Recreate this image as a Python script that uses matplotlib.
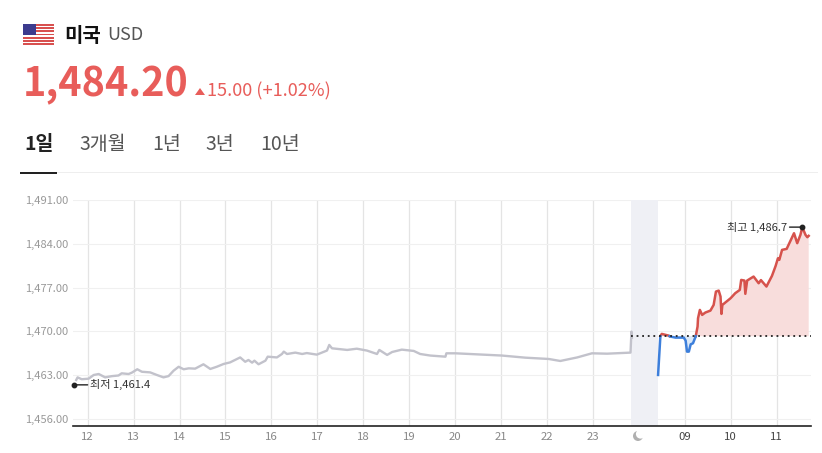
import numpy as np
import matplotlib
matplotlib.use('Agg')
import matplotlib.pyplot as plt
from matplotlib.patches import Rectangle, Polygon, Circle
from matplotlib.transforms import IdentityTransform

plt.rcParams['font.family'] = ['Noto Sans CJK KR', 'DejaVu Sans']

W, H = 822, 453

# values; hours run on past midnight (25 = 09h)
grey_x = [11.75, 11.78, 11.87, 12.02, 12.13, 12.24, 12.38, 12.53, 12.67, 12.74, 12.89, 12.96, 13.08, 13.18,
          13.36, 13.5, 13.65, 13.76, 13.87, 13.98, 14.09, 14.2, 14.34, 14.52, 14.67, 14.81, 14.96,
          15.1, 15.32, 15.43, 15.5, 15.58, 15.63, 15.72, 15.87, 15.92, 16.12, 16.23, 16.27, 16.34, 16.52,
          16.67, 16.77, 16.99, 17.21, 17.26, 17.32, 17.65, 17.86, 18.08, 18.3, 18.35, 18.52, 18.63, 18.84,
          19.1, 19.24, 19.46, 19.79, 19.81, 20.01, 21.02, 21.53, 22.04, 22.29, 22.66, 22.98, 23.31, 23.82,
          23.84, 23.85]
grey_y = [1462.18, 1462.6, 1462.3, 1462.39, 1462.98, 1463.14, 1462.6, 1462.8, 1462.9, 1463.25, 1463.14, 1463.35,
          1463.9, 1463.5, 1463.4, 1463.0, 1462.6, 1462.8, 1463.67, 1464.3, 1463.9, 1464.05, 1464.0, 1464.7,
          1463.95, 1464.3, 1464.75, 1465.0, 1465.8, 1465.1, 1465.39, 1464.96, 1465.28, 1464.7, 1465.28, 1465.92,
          1465.8, 1466.35, 1466.73, 1466.35, 1466.57, 1466.35, 1466.5, 1466.25, 1466.9, 1467.8, 1467.26, 1467.0,
          1467.2, 1466.9, 1466.35, 1467.0, 1466.2, 1466.67, 1467.05, 1466.84, 1466.35, 1466.1, 1465.92, 1466.46,
          1466.46, 1466.1, 1465.76, 1465.55, 1465.23, 1465.8, 1466.46, 1466.4, 1466.57, 1469.94, 1469.0]

# after the open, the crossings of the previous close are listed as points
open_x = [24.42, 24.47, 24.5, 24.65, 24.67, 24.69, 24.8, 24.98, 25.02, 25.05, 25.09, 25.13, 25.18, 25.23,
          25.24, 25.28, 25.29, 25.33, 25.38, 25.45, 25.56, 25.63, 25.68, 25.74, 25.78, 25.8, 25.82, 26.0, 26.1,
          26.2, 26.23, 26.3, 26.32, 26.36, 26.5, 26.61, 26.66, 26.78, 26.9, 26.98, 27.03, 27.06, 27.12, 27.22,
          27.38, 27.45, 27.52, 27.56, 27.63, 27.67, 27.7]
open_y = [1462.99, 1469.2, 1469.57, 1469.3, 1469.2, 1469.14, 1468.98, 1468.98, 1468.5, 1466.73, 1466.73, 1467.9,
          1468.07, 1469.0, 1469.2, 1470.75, 1472.08, 1473.42, 1472.62, 1473.0, 1473.31, 1474.22, 1476.36, 1476.52,
          1475.56, 1472.78, 1474.22, 1475.3, 1476.1, 1476.63, 1478.23, 1478.13, 1476.0, 1478.13, 1478.77, 1477.7,
          1478.2, 1477.17, 1478.88, 1480.48, 1481.7, 1481.45, 1483.05, 1483.21, 1485.72, 1484.12, 1485.46, 1486.7,
          1485.46, 1485.08, 1485.3]

prev_close = 1469.2
low_x, low_y = 11.7, 1461.4
high_x, high_y = 27.56, 1486.7
night_x = [23.84, 24.41]

y_ticks = [1456, 1463, 1470, 1477, 1484, 1491]
x_ticks = [12, 13, 14, 15, 16, 17, 18, 19, 20, 21, 22, 23, 25, 26, 27]
x_labels = ['12', '13', '14', '15', '16', '17', '18', '19', '20', '21', '22', '23', '09', '10', '11']

tabs = ['1일', '3개월', '1년', '3년', '10년']
tab_left = [24, 79, 152, 205, 260]

RED = '#e85d5a'
LINE_RED = '#d6524c'
BLUE = '#3d7fdb'
GREY = '#c2c2cb'


def px(x, y):
    return x / W, 1 - y / H


def label(x, y, s, size, color, weight='normal', ha='left'):
    fx, fy = px(x, y)
    fig.text(fx, fy, s, fontsize=size * 0.72, color=color, fontweight=weight, ha=ha, va='center')


fig = plt.figure(figsize=(W / 100, H / 100), dpi=100)

# flag
flag = fig.add_axes([23 / W, 1 - 45 / H, 31 / W, 21 / H])
flag.set_xlim(0, 1)
flag.set_ylim(13, 0)
flag.axis('off')
for i in range(13):
    flag.add_patch(Rectangle((0, i), 1, 1, color='#d8504f' if i % 2 == 0 else 'white', lw=0))
flag.add_patch(Rectangle((0, 0), 0.42, 7, color='#3c3b8e', lw=0))

# header
label(64, 35, '미국', 20, '#111111', 'bold')
label(107, 35.5, 'USD', 18, '#555555')
label(22.5, 84.5, '1,484.20', 39.5, RED, 'bold')
label(207, 91, '15.00 (+1.02%)', 18.2, RED)
fig.add_artist(Polygon([px(195, 95), px(205, 95), px(200, 88)], closed=True, color=RED, lw=0,
                       transform=fig.transFigure))
for i in range(len(tabs)):
    if i == 0:
        label(tab_left[i], 144, tabs[i], 19.5, '#222222', 'bold')
    else:
        label(tab_left[i], 144, tabs[i], 19.5, '#555555')
fig.add_artist(Rectangle(px(20, 173), 798 / W, 1 / H, color='#eeeeee', lw=0, transform=fig.transFigure))
fig.add_artist(Rectangle(px(20, 173.5), 37 / W, 2 / H, color='#222222', lw=0, transform=fig.transFigure))

# chart
ax = fig.add_axes([73 / W, 1 - 426 / H, 738 / W, 226 / H])
ax.set_xlim(11.68, 27.75)
ax.set_ylim(1454.8, 1491.05)
for s in ['top', 'left', 'right']:
    ax.spines[s].set_visible(False)
ax.spines['bottom'].set_color('#222222')
ax.spines['bottom'].set_linewidth(1.2)

ax.set_yticks(y_ticks)
ax.set_yticklabels(['{:,.2f}'.format(v) for v in y_ticks])
ax.set_xticks(x_ticks)
ax.set_xticklabels(x_labels)
ax.tick_params(length=0)
ax.tick_params(axis='y', labelsize=8, labelcolor='#999999', pad=3.5)
ax.tick_params(axis='x', labelsize=8.2, labelcolor='#888888', pad=4)
for t, s in zip(ax.get_xticklabels(), x_labels):
    if s in ['09', '10', '11']:
        t.set_color('#444444')

ax.grid(axis='y', color='#f0f0f0', lw=0.8)
for v in x_ticks:
    ax.axvline(v, color='#e4e4e4', lw=0.9, zorder=0.5)
ax.set_axisbelow(True)
ax.axvspan(night_x[0], night_x[1], color='#eff0f5', lw=0, zorder=0.8)

open_x = np.array(open_x)
open_y = np.array(open_y)
ax.fill_between(open_x, open_y, prev_close, where=open_y >= prev_close, color='#f8dddc', lw=0, zorder=1)
ax.fill_between(open_x[1:], open_y[1:], prev_close, where=open_y[1:] <= prev_close, color='#dce9f8', lw=0, zorder=1)

ax.plot(grey_x, grey_y, color=GREY, lw=1.7, zorder=2)
ax.plot(open_x, np.ma.masked_where(open_y < prev_close, open_y), color=LINE_RED, lw=1.8, zorder=3)
ax.plot(open_x, np.ma.masked_where(open_y > prev_close, open_y), color=BLUE, lw=1.8, zorder=3)
ax.plot([night_x[0], 27.75], [prev_close, prev_close], color='#222222', lw=1.3, ls=(0, (1, 2.1)), zorder=4)

ax.plot([low_x, high_x], [low_y, high_y], 'o', color='#222222', ms=3.2, zorder=5, clip_on=False)
ax.annotate('최저 1,461.4', (low_x, low_y), xytext=(16.5 * 0.72, 0), textcoords='offset points', fontsize=8,
            color='#333333', va='center', ha='left', arrowprops=dict(arrowstyle='-', color='#222222', lw=1,
                                                                     shrinkA=0, shrinkB=0))
ax.annotate('최고 1,486.7', (high_x, high_y), xytext=(-15.5 * 0.72, 0), textcoords='offset points', fontsize=8,
            color='#333333', va='center', ha='right', arrowprops=dict(arrowstyle='-', color='#222222', lw=1,
                                                                      shrinkA=0, shrinkB=0))

# night marker under the shaded band
fig.add_artist(Circle((638, H - 436), 5, color='#b0b0b0', lw=0, transform=IdentityTransform()))
fig.add_artist(Circle((640.5, H - 434), 4.6, color='white', lw=0, transform=IdentityTransform()))

fig.savefig('out.png', dpi=100)
